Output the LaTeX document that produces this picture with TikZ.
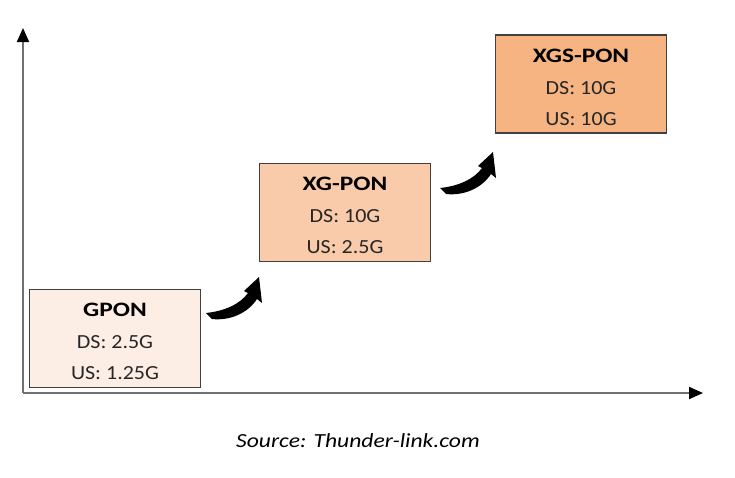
\documentclass[tikz,border=0pt]{standalone}
\usepackage{fontspec}
\setmainfont{Carlito}[FakeStretch=1.1,BoldFeatures={FakeStretch=1.24},ItalicFeatures={FakeStretch=1.18}]
\usetikzlibrary{arrows.meta}
\definecolor{cone}{HTML}{FDEEE5}
\definecolor{ctwo}{HTML}{F9CBAA}
\definecolor{cthree}{HTML}{F5B482}
\definecolor{cborder}{HTML}{404040}
\definecolor{caxis}{HTML}{707070}
\begin{document}
\begin{tikzpicture}[x=1pt,y=-1pt,
  axis/.style={draw=caxis,line width=2pt,-{Triangle[length=14pt,width=12pt,fill=black,color=black]}},
  pbox/.style={draw=cborder,line width=1.2pt,minimum width=171pt,minimum height=98pt,inner sep=0pt},
  ttl/.style={anchor=base,font=\fontsize{20.5}{24}\selectfont\bfseries,inner sep=0pt},
  rate/.style={anchor=base,font=\fontsize{20}{24}\selectfont,inner sep=0pt,text=black!85},
  curvearr/.style={fill=black,draw=none}]
\useasboundingbox (0,0) rectangle (735,477);
% axes
\coordinate (o) at (23,393);
\coordinate (ytop) at (23,28);
\coordinate (xend) at (703,393);
\draw[axis] (o) -- (ytop);
\draw[axis] (o) -- (xend);
% boxes
\node[pbox,fill=cone] (gpon) at (115,338.5) {};
\node[pbox,fill=ctwo] (xgpon) at (345,212.5) {};
\node[pbox,fill=cthree] (xgspon) at (581,84) {};
% texts
\node[ttl] (gponT) at ([yshift=-28pt]gpon.north) {GPON};
\node[rate] (gponD) at ([yshift=-60pt]gpon.north) {DS: 2.5G};
\node[rate] (gponU) at ([yshift=-91pt]gpon.north) {US: 1.25G};
\node[ttl] (xgponT) at ([yshift=-28pt]xgpon.north) {XG-PON};
\node[rate] (xgponD) at ([yshift=-60pt]xgpon.north) {DS: 10G};
\node[rate] (xgponU) at ([yshift=-91pt]xgpon.north) {US: 2.5G};
\node[ttl] (xgsponT) at ([yshift=-28pt]xgspon.north) {XGS-PON};
\node[rate] (xgsponD) at ([yshift=-60pt]xgspon.north) {DS: 10G};
\node[rate] (xgsponU) at ([yshift=-91pt]xgspon.north) {US: 10G};
% curved arrows
\foreach \dx/\dy in {0/0,234/-125}{
  \begin{scope}[shift={(\dx,\dy)}]
  \fill[curvearr] (206,313) .. controls (225,311) and (240,304) .. (248,293)
     -- (244,291) -- (259,277) -- (262,303) -- (257,299)
     .. controls (248,313) and (230,321) .. (212,319) -- cycle;
  \end{scope}
}
% caption
\node[anchor=base,font=\fontsize{20}{24}\selectfont\itshape,inner sep=0pt] (src) at (358,447) {Source: Thunder-link.com};
\end{tikzpicture}
\end{document}
